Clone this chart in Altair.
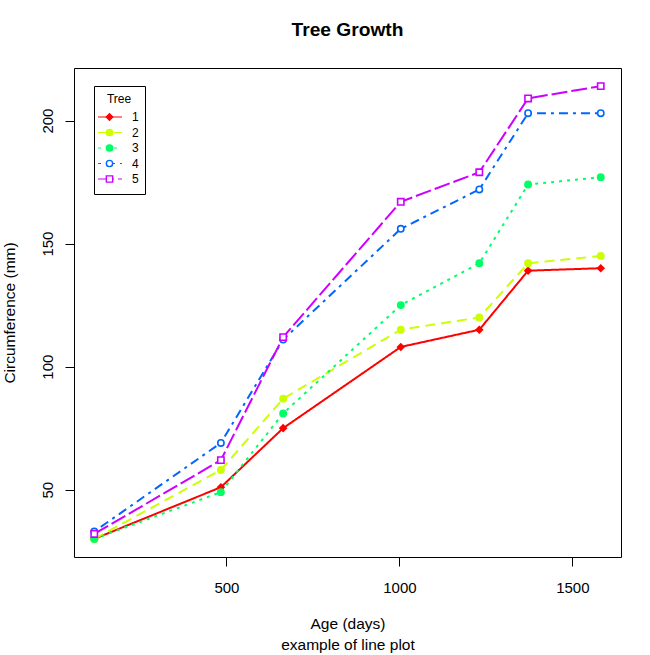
import altair as alt
import pandas as pd

# ---- data (Orange trees) ----
ages = [118, 484, 664, 1004, 1231, 1372, 1582]
tree_labels = ["1", "2", "3", "4", "5"]
circ_1 = [30, 51, 75, 108, 115, 139, 140]
circ_2 = [30, 58, 87, 115, 120, 142, 145]
circ_3 = [30, 49, 81, 125, 142, 174, 177]
circ_4 = [33, 69, 111, 156, 172, 203, 203]
circ_5 = [32, 62, 112, 167, 179, 209, 214]
x_ticks = [500, 1000, 1500]
y_ticks = [50, 100, 150, 200]

# ---- styles ----
colors = ["#FF0000", "#CCFF00", "#00FF66", "#0066FF", "#CC00FF"]
dashes = [[1, 0], [10, 6], [3, 5], [3, 5, 9, 5], [16, 4]]
shapes = ["diamond", "circle", "circle", "circle", "square"]
fills = ["#FF0000", "#CCFF00", "#00FF66", "white", "white"]
sizes = [40, 40, 14, 36, 42]

series = [circ_1, circ_2, circ_3, circ_4, circ_5]
rows = []
for lab, vals in zip(tree_labels, series):
    for a, c in zip(ages, vals):
        rows.append({"Tree": lab, "age": a, "circ": c})
df = pd.DataFrame(rows)
leg_df = pd.DataFrame({"Tree": tree_labels})
leg_title_df = pd.DataFrame({"t": ["Tree"]})

FONT = "Liberation Sans"
W, H = 547, 489
x_dom = [59.44, 1640.56]
y_dom = [22.64, 221.36]

stroke_enc = alt.Stroke("Tree:O", scale=alt.Scale(domain=tree_labels, range=colors), legend=None)
dash_enc = alt.StrokeDash("Tree:O", scale=alt.Scale(domain=tree_labels, range=dashes), legend=None)
fill_enc = alt.Fill("Tree:O", scale=alt.Scale(domain=tree_labels, range=fills), legend=None)
shape_enc = alt.Shape("Tree:O", scale=alt.Scale(domain=tree_labels, range=shapes), legend=None)
size_enc = alt.Size("Tree:O", scale=alt.Scale(domain=tree_labels, range=sizes), legend=None)

x_enc = alt.X(
    "age:Q",
    scale=alt.Scale(domain=x_dom, nice=False, zero=False),
    axis=alt.Axis(
        values=x_ticks, format="d", grid=False, domain=False, tickSize=9, tickColor="black",
        labelFont=FONT, labelFontSize=15, labelColor="black", labelPadding=14,
        labelBaseline="top", labelFlush=False, labelOverlap=False,
        title=["Age (days)", "example of line plot"], titleFont=FONT,
        titleFontSize=15.5, titleFontWeight="normal", titleColor="black",
        titleX=W / 2, titleY=71, titleBaseline="alphabetic", titleAlign="center",
        titleLineHeight=21, titleAnchor="middle",
    ),
)
y_enc = alt.Y(
    "circ:Q",
    scale=alt.Scale(domain=y_dom, nice=False, zero=False),
    axis=alt.Axis(
        values=y_ticks, format="d", grid=False, domain=False, tickSize=9, tickColor="black",
        labelFont=FONT, labelFontSize=15, labelColor="black", labelPadding=13,
        labelAngle=270, labelAlign="center", labelBaseline="alphabetic",
        labelFlush=False, labelOverlap=False,
        title="Circumference (mm)", titleFont=FONT, titleFontSize=15.5,
        titleFontWeight="normal", titleColor="black", titleAngle=270,
        titleX=-60, titleY=H / 2, titleBaseline="alphabetic", titleAlign="center",
    ),
)

lines = alt.Chart(df).mark_line(strokeWidth=2, strokeCap="butt").encode(
    x=x_enc, y=y_enc, stroke=stroke_enc, strokeDash=dash_enc, detail="Tree:O"
)
points = alt.Chart(df).mark_point(filled=False, strokeWidth=1.6, opacity=1, fillOpacity=1).encode(
    x=x_enc, y=y_enc, stroke=stroke_enc, fill=fill_enc, shape=shape_enc, size=size_enc,
)
data_layer = alt.layer(lines, points)

# ---- legend (R style, top-left) ----
ly = alt.Y("Tree:O", scale=alt.Scale(type="point", domain=tree_labels, range=[49, 111], padding=0), axis=None)
leg_box = alt.Chart(leg_title_df).mark_rect(fill="white", stroke="black", strokeWidth=1).encode(
    x=alt.value(20.5), x2=alt.value(71.5), y=alt.value(18.5), y2=alt.value(126.5)
)
leg_title = alt.Chart(leg_title_df).mark_text(
    font=FONT, fontSize=12, color="black", align="center", baseline="alphabetic"
).encode(x=alt.value(45), y=alt.value(35), text="t:N")
leg_rules = alt.Chart(leg_df).mark_rule(strokeWidth=1, strokeCap="butt").encode(
    x=alt.value(24), x2=alt.value(48), y=ly, stroke=stroke_enc, strokeDash=dash_enc
)
leg_pts = alt.Chart(leg_df).mark_point(filled=False, strokeWidth=1.4, opacity=1, fillOpacity=1).encode(
    x=alt.value(35.5), y=ly, stroke=stroke_enc, fill=fill_enc, shape=shape_enc, size=size_enc
)
leg_text = alt.Chart(leg_df).mark_text(
    font=FONT, fontSize=12, color="black", align="left", baseline="middle"
).encode(x=alt.value(58), y=ly, text="Tree:N")
legend_layer = alt.layer(leg_box, leg_title, leg_rules, leg_pts, leg_text)

chart = (
    alt.layer(data_layer, legend_layer)
    .resolve_scale(y="independent")
    .properties(
        width=W,
        height=H,
        title=alt.Title(
            "Tree Growth", font=FONT, fontSize=19.2, fontWeight="bold", color="black",
            anchor="middle", baseline="alphabetic", offset=13,
        ),
        autosize=alt.AutoSizeParams(type="none"),
        padding={"left": 74, "top": 68, "right": 29, "bottom": 98},
        background="white",
    )
    .configure_view(stroke="black", strokeWidth=1)
)

chart.save("out.html", embed_options={"renderer": "svg", "actions": False})
